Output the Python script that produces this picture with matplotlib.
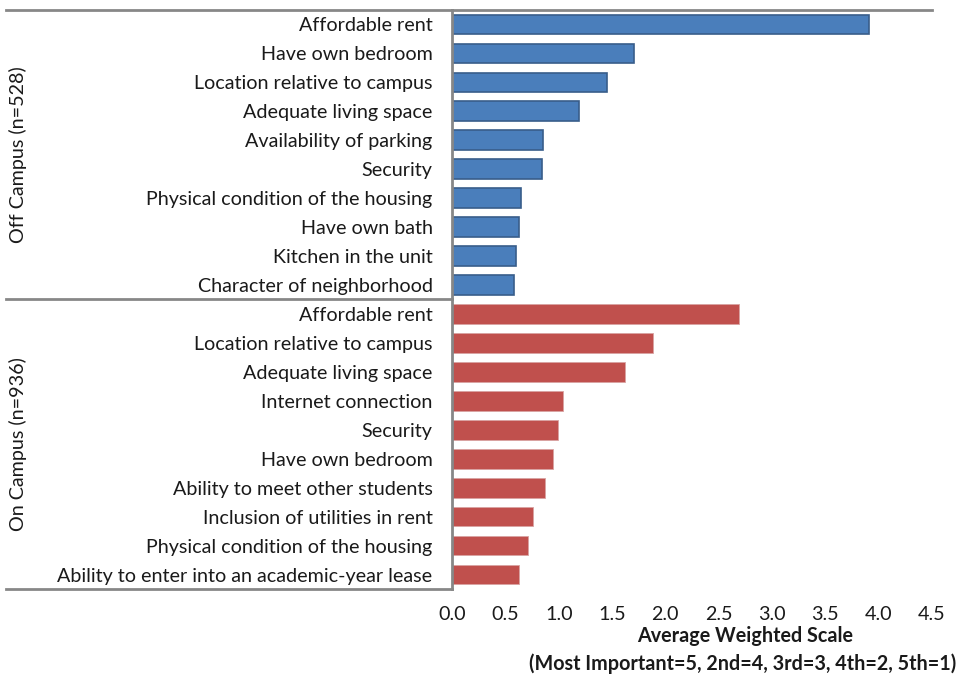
import matplotlib
matplotlib.use("Agg")
import matplotlib.pyplot as plt
from matplotlib.transforms import blended_transform_factory
import numpy as np

plt.rcParams['font.family'] = ['Lato', 'DejaVu Sans']

off_labels = ["Affordable rent", "Have own bedroom", "Location relative to campus",
              "Adequate living space", "Availability of parking", "Security",
              "Physical condition of the housing", "Have own bath",
              "Kitchen in the unit", "Character of neighborhood"]
off_values = [3.91, 1.71, 1.45, 1.19, 0.85, 0.84, 0.65, 0.63, 0.60, 0.58]

on_labels = ["Affordable rent", "Location relative to campus", "Adequate living space",
             "Internet connection", "Security", "Have own bedroom",
             "Ability to meet other students", "Inclusion of utilities in rent",
             "Physical condition of the housing", "Ability to enter into an academic-year lease"]
on_values = [2.69, 1.88, 1.62, 1.04, 0.99, 0.95, 0.87, 0.76, 0.71, 0.63]

group_labels = ["Off Campus (n=528)", "On Campus (n=936)"]
x_ticks = [0.0, 0.5, 1.0, 1.5, 2.0, 2.5, 3.0, 3.5, 4.0, 4.5]

FS = 14.2
fig = plt.figure(figsize=(9.6, 6.79), dpi=100)
ax = fig.add_axes([452/960, 1-589/679, 480/960, 579/679])

n_off = len(off_labels)
n_on = len(on_labels)
y_off = np.arange(n_off)
y_on = np.arange(n_on) + n_off
grey = "#878787"
tc = "#1a1a1a"

ax.barh(y_off, off_values, height=0.68, color="#4A7EBB", edgecolor="#385D8A", linewidth=1.2)
ax.barh(y_on, on_values, height=0.68, color="#C0504D", edgecolor="#D9A3A2", linewidth=0.6)

ax.set_ylim(n_off + n_on - 0.5, -0.5)
ax.set_xlim(0, 4.5)
ax.set_yticks(list(y_off) + list(y_on))
ax.set_yticklabels(off_labels + on_labels, fontsize=FS, color=tc)
ax.set_xticks(x_ticks)
ax.set_xticklabels([f"{t:.1f}" for t in x_ticks], fontsize=FS, color=tc)
ax.tick_params(axis='y', length=0, pad=14)
ax.tick_params(axis='x', length=0, pad=12)

for s in ["right", "bottom"]:
    ax.spines[s].set_visible(False)
ax.spines["left"].set_color(grey)
ax.spines["left"].set_linewidth(2)
ax.spines["top"].set_color(grey)
ax.spines["top"].set_linewidth(2)

tr = blended_transform_factory(ax.transAxes, ax.transData)
x_left = (6 - 452) / 480
ax.plot([x_left, 0], [-0.5, -0.5], transform=tr, color=grey, lw=2, clip_on=False)
ax.plot([x_left, 0], [n_off - 0.5, n_off - 0.5], transform=tr, color=grey, lw=2, clip_on=False)
ax.plot([x_left, 0], [n_off + n_on - 0.5, n_off + n_on - 0.5], transform=tr, color=grey, lw=2, clip_on=False)

tl = blended_transform_factory(fig.transFigure, ax.transData)
ax.text(18/960, (n_off - 1) / 2, group_labels[0], transform=tl, rotation=90,
        ha="center", va="center", fontsize=FS, color=tc)
ax.text(18/960, n_off + (n_on - 1) / 2, group_labels[1], transform=tl, rotation=90,
        ha="center", va="center", fontsize=FS, color=tc)

fig.text(745/960, 1 - 636/679, "Average Weighted Scale", ha="center", va="center",
         fontsize=FS, fontweight="bold", color=tc)
fig.text(743/960, 1 - 664/679, "(Most Important=5, 2nd=4, 3rd=3, 4th=2, 5th=1)",
         ha="center", va="center", fontsize=FS, fontweight="bold", color=tc)

fig.savefig("out.png", dpi=100)
